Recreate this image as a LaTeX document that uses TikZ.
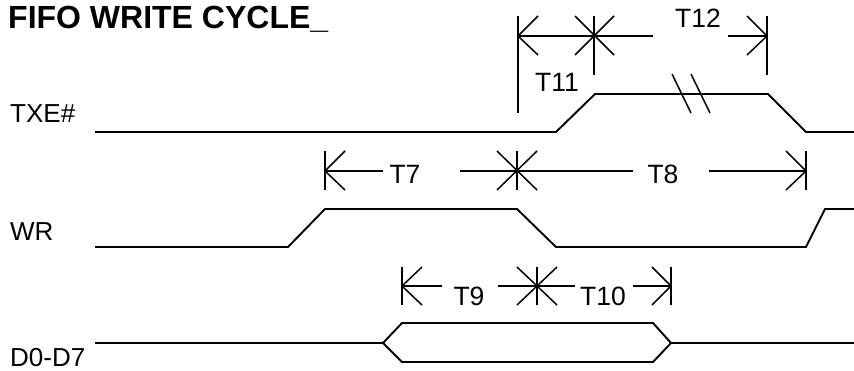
\documentclass[tikz,border=0pt]{standalone}
\usepackage{fontspec}
\setmainfont{Liberation Sans}
\begin{document}
\begin{tikzpicture}[x=1pt,y=-1pt,
  sig/.style={line width=1.9pt, line join=miter},
  dim/.style={line width=1.5pt},
  lbl/.style={anchor=base west, inner sep=0pt, font=\fontsize{26}{26}\selectfont},
  tlbl/.style={anchor=base, inner sep=0pt, font=\fontsize{26.5}{26}\selectfont},
  ttl/.style={anchor=base west, inner sep=0pt, font=\fontsize{32}{32}\selectfont\bfseries}]
\useasboundingbox (0,0) rectangle (854,370);
% title and signal names
\node[ttl] (title) at (8,28) {FIFO WRITE CYCLE\_};
\node[lbl] (txe) at (10,122) {TXE\#};
\node[lbl] (wr) at (10,240) {WR};
\node[lbl] (dd) at (10,366) {D0-D7};
% TXE# waveform
\draw[sig] (95,132) -- (556,132) -- (595,94) -- (768,94) -- (806,132) -- (854,132);
\draw[dim] (672,74) -- (691,113);
\draw[dim] (691,74) -- (710,113);
% WR waveform
\draw[sig] (95,247) -- (288,247) -- (325,209) -- (517,209) -- (556,247) -- (806,247) -- (825,209) -- (854,209);
% D0-D7 waveform
\draw[sig] (95,343) -- (383,343) -- (402,323) -- (653,323) -- (671,343) -- (854,343);
\draw[sig] (383,343) -- (402,362) -- (653,362) -- (671,343);
% T11 / T12
\draw[dim] (518,16) -- (518,113);
\draw[dim] (538,16) -- (518,36) -- (538,55);
\draw[dim] (594,16) -- (594,75);
\draw[dim] (575,16) -- (614,55);
\draw[dim] (575,55) -- (614,16);
\draw[dim] (518,36) -- (653,36);
\draw[dim] (728,36) -- (767,36);
\draw[dim] (767,16) -- (767,75);
\draw[dim] (747,16) -- (767,36) -- (747,55);
\node[tlbl] (t11) at (557,91) {T11};
\node[tlbl] (t12) at (698,27) {T12};
% T7 / T8
\draw[dim] (325,151) -- (325,190);
\draw[dim] (345,151) -- (325,171) -- (345,190);
\draw[dim] (325,171) -- (383,171);
\draw[dim] (460,171) -- (633,171);
\draw[dim] (517,151) -- (517,190);
\draw[dim] (497,151) -- (537,190);
\draw[dim] (497,190) -- (537,151);
\draw[dim] (709,171) -- (806,171);
\draw[dim] (806,151) -- (806,190);
\draw[dim] (786,151) -- (806,171) -- (786,190);
\node[tlbl] (t7) at (405,183) {T7};
\node[tlbl] (t8) at (663,183) {T8};
% T9 / T10
\draw[dim] (402,267) -- (402,305);
\draw[dim] (422,267) -- (402,286) -- (422,305);
\draw[dim] (402,286) -- (442,286);
\draw[dim] (498,286) -- (575,286);
\draw[dim] (537,267) -- (537,305);
\draw[dim] (517,267) -- (557,305);
\draw[dim] (517,305) -- (557,267);
\draw[dim] (633,286) -- (671,286);
\draw[dim] (671,267) -- (671,305);
\draw[dim] (652,267) -- (671,286) -- (652,305);
\node[tlbl] (t9) at (469,305) {T9};
\node[tlbl] (t10) at (603,305) {T10};
\end{tikzpicture}
\end{document}
